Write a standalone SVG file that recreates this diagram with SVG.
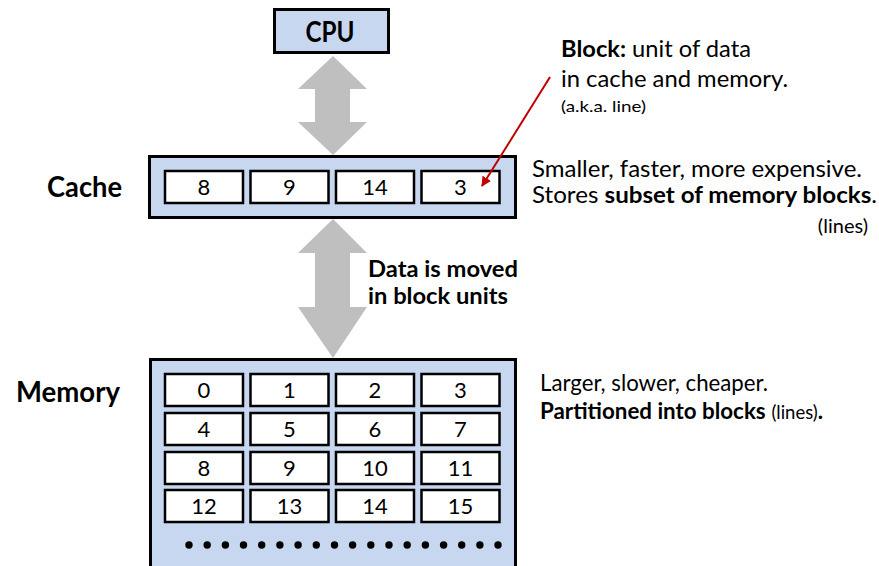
<svg xmlns="http://www.w3.org/2000/svg" width="879" height="566" viewBox="0 0 879 566">
<style>
text{font-family:Lato,"Open Sans","Liberation Sans",sans-serif;fill:#000}
.box{fill:#C6D7EF;stroke:#000;stroke-width:3}
.cell{fill:#fff;stroke:#000;stroke-width:2.5}
.num{font-size:22px;text-anchor:middle}
.lbl{font-size:29px;font-weight:bold}
.txt{font-size:23px}
.b{font-weight:bold}
.sm{font-size:16px}
.garrow{fill:#BFBFBF;stroke:none}
</style>
<defs>
<marker id="redhead" viewBox="0 0 10 10" refX="9" refY="5" markerWidth="5" markerHeight="5" orient="auto" markerUnits="strokeWidth">
<path d="M0,0 L10,5 L0,10 z" fill="#C00000"/>
</marker>
</defs>
<rect width="879" height="566" fill="#fff"/>

<g id="cpu">
<rect class="box" x="274.5" y="9.5" width="114" height="43"/>
<text x="330" y="42" text-anchor="middle" font-size="28" font-weight="bold" textLength="49" lengthAdjust="spacingAndGlyphs">CPU</text>
</g>

<g id="cache">
<text class="lbl" x="47" y="197" textLength="75" lengthAdjust="spacingAndGlyphs">Cache</text>
<rect class="box" x="149.5" y="156.5" width="366" height="61"/>
<rect class="cell" x="165" y="171" width="78" height="32"/>
<rect class="cell" x="250.5" y="171" width="78" height="32"/>
<rect class="cell" x="336" y="171" width="78" height="32"/>
<rect class="cell" x="421.5" y="171" width="78" height="32"/>
<text class="num" x="204" y="195">8</text>
<text class="num" x="289.5" y="195">9</text>
<text class="num" x="375" y="195">14</text>
<text class="num" x="460.5" y="195">3</text>
</g>

<g id="memory">
<text class="lbl" x="16" y="402" textLength="104" lengthAdjust="spacingAndGlyphs">Memory</text>
<rect class="box" x="150.5" y="359.5" width="365" height="220"/>
<g>
<rect class="cell" x="165" y="374" width="78" height="32"/>
<rect class="cell" x="250.5" y="374" width="78" height="32"/>
<rect class="cell" x="336" y="374" width="78" height="32"/>
<rect class="cell" x="421.5" y="374" width="78" height="32"/>
<rect class="cell" x="165" y="413" width="78" height="32"/>
<rect class="cell" x="250.5" y="413" width="78" height="32"/>
<rect class="cell" x="336" y="413" width="78" height="32"/>
<rect class="cell" x="421.5" y="413" width="78" height="32"/>
<rect class="cell" x="165" y="452" width="78" height="32"/>
<rect class="cell" x="250.5" y="452" width="78" height="32"/>
<rect class="cell" x="336" y="452" width="78" height="32"/>
<rect class="cell" x="421.5" y="452" width="78" height="32"/>
<rect class="cell" x="165" y="490" width="78" height="32"/>
<rect class="cell" x="250.5" y="490" width="78" height="32"/>
<rect class="cell" x="336" y="490" width="78" height="32"/>
<rect class="cell" x="421.5" y="490" width="78" height="32"/>
</g>
<g>
<text class="num" x="204" y="398">0</text>
<text class="num" x="289.5" y="398">1</text>
<text class="num" x="375" y="398">2</text>
<text class="num" x="460.5" y="398">3</text>
<text class="num" x="204" y="437">4</text>
<text class="num" x="289.5" y="437">5</text>
<text class="num" x="375" y="437">6</text>
<text class="num" x="460.5" y="437">7</text>
<text class="num" x="204" y="476">8</text>
<text class="num" x="289.5" y="476">9</text>
<text class="num" x="375" y="476">10</text>
<text class="num" x="460.5" y="476">11</text>
<text class="num" x="204" y="514">12</text>
<text class="num" x="289.5" y="514">13</text>
<text class="num" x="375" y="514">14</text>
<text class="num" x="460.5" y="514">15</text>
</g>
<g fill="#000">
<circle cx="189" cy="545" r="3.7"/><circle cx="207.2" cy="545" r="3.7"/><circle cx="225.4" cy="545" r="3.7"/>
<circle cx="243.5" cy="545" r="3.7"/><circle cx="261.7" cy="545" r="3.7"/><circle cx="279.9" cy="545" r="3.7"/>
<circle cx="298.1" cy="545" r="3.7"/><circle cx="316.3" cy="545" r="3.7"/><circle cx="334.5" cy="545" r="3.7"/>
<circle cx="352.6" cy="545" r="3.7"/><circle cx="370.8" cy="545" r="3.7"/><circle cx="389" cy="545" r="3.7"/>
<circle cx="407.2" cy="545" r="3.7"/><circle cx="425.4" cy="545" r="3.7"/><circle cx="443.6" cy="545" r="3.7"/>
<circle cx="461.7" cy="545" r="3.7"/><circle cx="479.9" cy="545" r="3.7"/><circle cx="498" cy="545" r="3.7"/>
</g>
</g>

<g id="connectors">
<polygon class="garrow" points="333,56 367,89 350,89 350,122 367,122 333,155 298,122 315,122 315,89 298,89"/>
<polygon class="garrow" points="333,219 367,253 350,253 350,307 367,307 333,358 298,307 315,307 315,253 298,253"/>
<line x1="550" y1="77" x2="482" y2="186" stroke="#C00000" stroke-width="2" marker-end="url(#redhead)"/>
</g>

<g id="annotations">
<text class="txt" x="561" y="57" textLength="190" lengthAdjust="spacingAndGlyphs"><tspan class="b">Block:</tspan> unit of data</text>
<text class="txt" x="561" y="87" textLength="227" lengthAdjust="spacingAndGlyphs">in cache and memory.</text>
<text class="sm" x="561" y="112" textLength="85" lengthAdjust="spacingAndGlyphs">(a.k.a. line)</text>
<text class="txt" x="532" y="177" textLength="330" lengthAdjust="spacingAndGlyphs">Smaller, faster, more expensive.</text>
<text class="txt" x="532" y="203" textLength="345" lengthAdjust="spacingAndGlyphs">Stores <tspan class="b">subset of memory blocks</tspan>.</text>
<text x="868" y="233" font-size="20" text-anchor="end">(lines)</text>
<text class="txt b" x="368" y="277" textLength="150" lengthAdjust="spacingAndGlyphs">Data is moved</text>
<text class="txt b" x="368" y="304" textLength="140" lengthAdjust="spacingAndGlyphs">in block units</text>
<text class="txt" x="540" y="391" textLength="228" lengthAdjust="spacingAndGlyphs">Larger, slower, cheaper.</text>
<text class="txt" x="540" y="419" textLength="283" lengthAdjust="spacingAndGlyphs"><tspan class="b">Partitioned into blocks</tspan> <tspan font-size="19">(lines)</tspan><tspan class="b">.</tspan></text>
</g>
</svg>
